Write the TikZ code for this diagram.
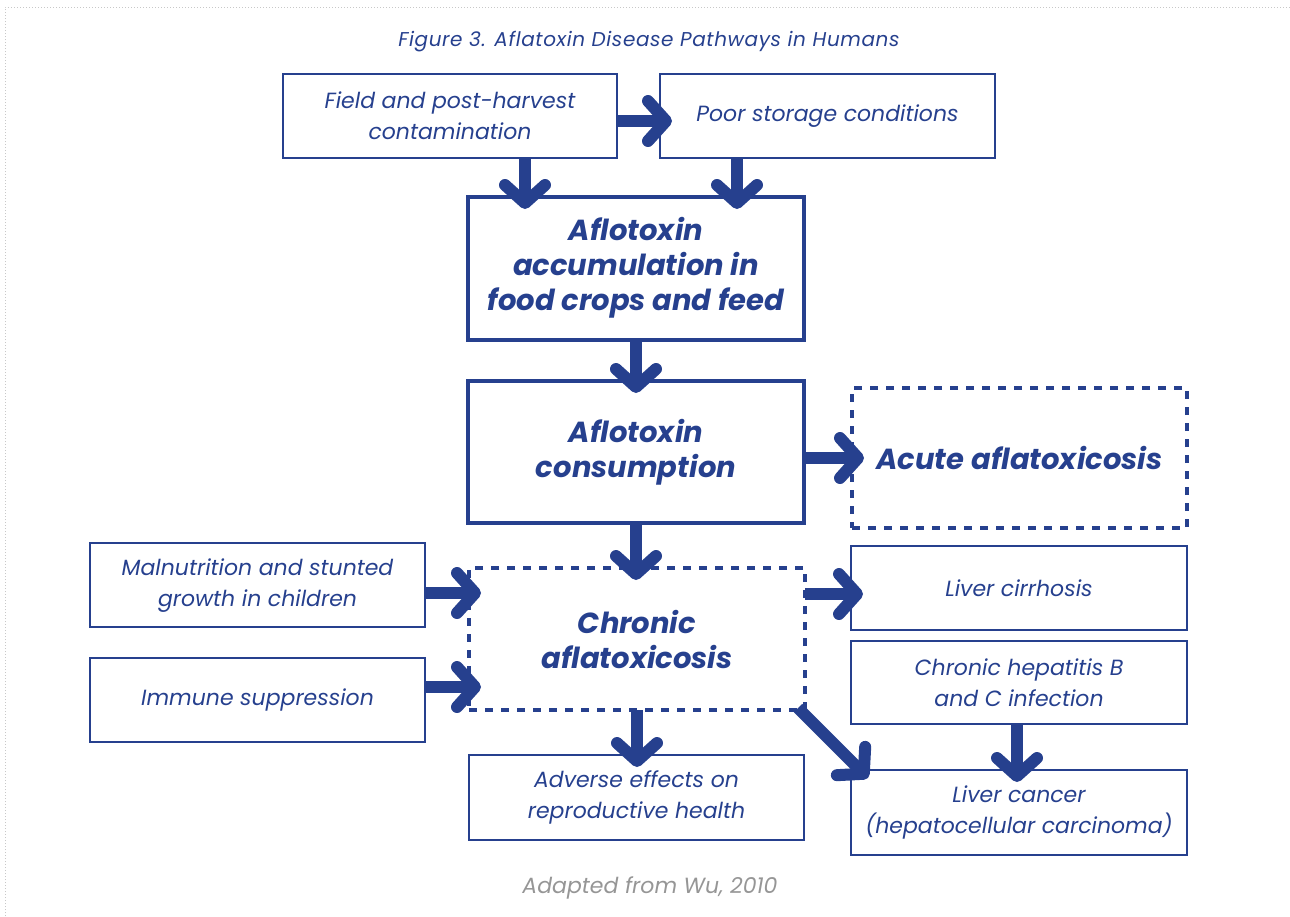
\documentclass[tikz,border=0pt]{standalone}
\usepackage{fontspec}
\setmainfont{Poppins}
\usetikzlibrary{arrows.meta}
\definecolor{ablue}{RGB}{38,64,142}
\definecolor{agray}{RGB}{150,150,150}
\definecolor{framegray}{RGB}{200,200,200}
\newcommand\regf{\fontsize{22}{31}\selectfont\itshape}
\newcommand\boldf{\fontsize{29}{35}\selectfont\bfseries\itshape}
\newcommand\titlef{\fontsize{20}{24}\selectfont\itshape\addfontfeatures{LetterSpace=3}}
\begin{document}
\begin{tikzpicture}[x=1pt,y=-1pt]
\tikzset{
  box/.style={draw=ablue, line width=2.5pt, rectangle, inner sep=0pt, outer sep=0pt,
    align=center, text=ablue, font=\regf},
  thickbox/.style={box, line width=4.5pt, font=\boldf},
  dashbox/.style={box, line width=4pt, dash pattern=on 8pt off 8pt, font=\boldf},
  bigarrow/.style={draw=ablue, line width=12pt,
    -{Straight Barb[round, length=18pt, width=40pt]}, shorten >=-12pt},
}
\useasboundingbox (0,0) rectangle (1290,916);
\draw[framegray, line width=1pt, dotted] (5,916) -- (5,7) -- (1290,7);

\node[text=ablue, font=\titlef] (title) at (649,42) {Figure 3. Aflatoxin Disease Pathways in Humans};

\node[box, minimum width=334pt, minimum height=84pt] (field) at (450,116) {Field and post-harvest\\contamination};
\node[box, minimum width=335pt, minimum height=84pt] (poor) at (827.5,116) {\raisebox{-2pt}{Poor storage conditions}};
\node[thickbox, minimum width=336pt, minimum height=143pt] (accum) at (636,268.5) {\raisebox{-4pt}{\begin{tabular}{@{}c@{}}Aflotoxin\\accumulation in\\food crops and feed\end{tabular}}};
\node[thickbox, minimum width=336pt, minimum height=142pt] (cons) at (636,452) {Aflotoxin\\consumption};
\node[dashbox, minimum width=335pt, minimum height=140pt] (acute) at (1019.5,458) {Acute aflatoxicosis};
\node[box, minimum width=335pt, minimum height=84pt] (maln) at (257.5,585) {\raisebox{5pt}{\begin{tabular}{@{}c@{}}Malnutrition and stunted\\growth in children\end{tabular}}};
\node[box, minimum width=335pt, minimum height=84pt] (immune) at (257.5,700) {\raisebox{-2pt}{Immune suppression}};
\node[dashbox, minimum width=336pt, minimum height=142pt] (chronic) at (637,639) {Chronic\\aflatoxicosis};
\node[box, minimum width=336pt, minimum height=84pt] (cirr) at (1019,588) {\raisebox{-6pt}{Liver cirrhosis}};
\node[box, minimum width=336pt, minimum height=83pt] (hep) at (1019,682.5) {Chronic hepatitis B\\and C infection};
\node[box, minimum width=335pt, minimum height=85pt] (adverse) at (636.5,797.5) {Adverse effects on\\reproductive health};
\node[box, minimum width=336pt, minimum height=85pt] (cancer) at (1019,812.5) {Liver cancer\\(hepatocellular carcinoma)};

\node[text=agray, font=\regf] (source) at (650,888) {Adapted from Wu, 2010};

\draw[bigarrow] ([yshift=-5pt]field.east) -- ([yshift=-5pt]field.east -| poor.west);
\draw[bigarrow] ([xshift=75pt]field.south) -- ([xshift=75pt]field.south |- accum.north);
\draw[bigarrow] ([xshift=-90.5pt]poor.south) -- ([xshift=-90.5pt]poor.south |- accum.north);
\draw[bigarrow] (accum.south) -- (cons.north);
\draw[bigarrow] ([yshift=-6pt]cons.east) -- ([yshift=-6pt]cons.east -| acute.west);
\draw[bigarrow] (cons.south) -- (cons.south |- chronic.north);
\draw[bigarrow] ([yshift=-8pt]maln.east) -- ([yshift=-8pt]maln.east -| chronic.west);
\draw[bigarrow] ([yshift=13pt]immune.east) -- ([yshift=13pt]immune.east -| chronic.west);
\draw[bigarrow] ([yshift=45pt]chronic.east) -- ([yshift=45pt]chronic.east -| cirr.west);
\draw[bigarrow] (chronic.south) -- (chronic.south |- adverse.north);
\draw[bigarrow, shorten >=0pt] ([xshift=-7pt,yshift=2pt]chronic.south east) -- ([xshift=17pt,yshift=-8pt]cancer.north west);
\draw[bigarrow] ([xshift=-2pt]hep.south) -- ([xshift=-2pt]hep.south |- cancer.north);
\end{tikzpicture}
\end{document}
